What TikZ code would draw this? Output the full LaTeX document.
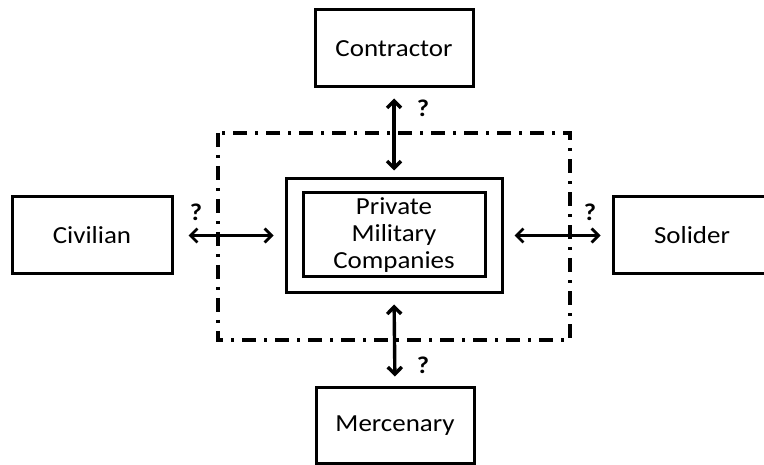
\documentclass[tikz,border=0pt]{standalone}
\usepackage{fontspec}
\setmainfont{Carlito}[FakeStretch=1.1]
\usetikzlibrary{arrows.meta}
\begin{document}
\begin{tikzpicture}[x=1pt,y=-1pt,
  box/.style={draw=black,line width=3pt,fill=white,minimum width=158pt,minimum height=77pt,inner sep=0pt,font=\fontsize{24.5}{27}\selectfont},
  conn/.style={line width=3.4pt,{Straight Barb[length=7pt,width=14pt]}-{Straight Barb[length=7pt,width=14pt]}},
  hconn/.style={conn,line width=2.8pt},
  qmark/.style={font=\fontsize{24}{27}\selectfont\bfseries,inner sep=0pt},
  dashdot/.style={line width=3.2pt,dash pattern=on 14pt off 8pt on 3pt off 8pt}]
\useasboundingbox (0,0) rectangle (764,465);
\draw[dashdot] (218,133) rectangle (570,340);
\node[box] (con) at (394,48.5) {Contractor};
\node[box,minimum width=160pt] (civ) at (92,235.5) {Civilian};
\node[box] (sol) at (692,235.5) {Solider};
\node[box,minimum height=75pt] (mer) at (395,425.5) {Mercenary};
\node[box,minimum width=216pt,minimum height=114pt] (outer) at (394,236) {};
\node[box,minimum width=182pt,minimum height=84pt,align=center] (inner) at (394,235) {Private\\Military\\Companies};
\draw[conn,shorten <=10pt,shorten >=7pt] (con.south) -- (con.south |- outer.north);
\draw[conn,shorten <=10pt,shorten >=10pt] (outer.south) -- (mer.north);
\draw[hconn,shorten <=15pt,shorten >=11pt] (civ.east) -- (outer.west |- civ.east);
\draw[hconn,shorten <=11pt,shorten >=11pt] (outer.east |- sol.west) -- (sol.west);
\node[qmark] (q1) at (423,108) {?};
\node[qmark] (q2) at (196,212) {?};
\node[qmark] (q3) at (590,212) {?};
\node[qmark] (q4) at (423,365) {?};
\end{tikzpicture}
\end{document}
